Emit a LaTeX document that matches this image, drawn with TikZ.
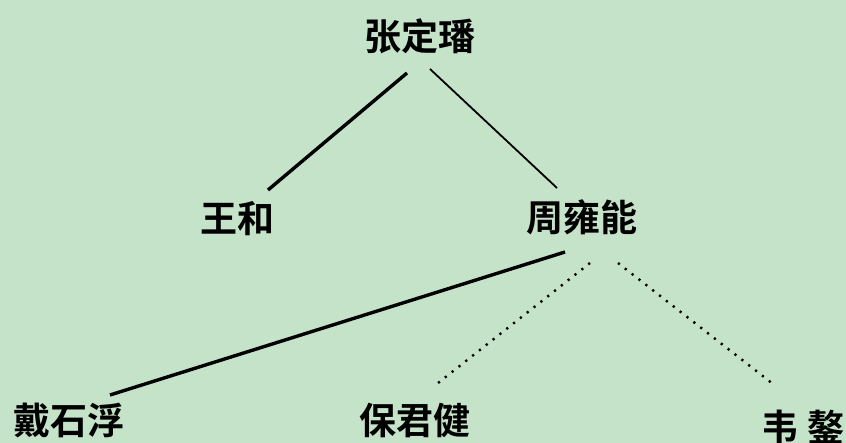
\documentclass[tikz,border=0pt]{standalone}
\usepackage{fontspec}
\newfontfamily\cjk{Noto Sans CJK SC}[BoldFont={Noto Sans CJK SC Bold}]
\usetikzlibrary{calc}
\definecolor{bg}{RGB}{197,227,200}
\tikzset{
  person/.style={anchor=base, inner sep=0pt, font=\cjk\bfseries\fontsize{37}{37}\selectfont},
  solidthick/.style={line width=3.4pt},
  solidthin/.style={line width=1.8pt},
  dotline/.style={line width=2.4pt, dash pattern=on 2.2pt off 6.5pt}
}
\begin{document}
\begin{tikzpicture}[x=1pt,y=-1pt]
\fill[bg] (0,0) rectangle (846,443);
\useasboundingbox (0,0) rectangle (846,443);
\node[person] (root) at (420,51) {张定璠};
\node[person] (wh) at (237,233) {王和};
\node[person] (zyn) at (582,232) {周雍能};
\node[person] (dsf) at (69,434) {戴石浮};
\node[person] (bjj) at (415,434) {保君健};
\node[person] (wa) at (803,442) {韦 鏊};
\draw[solidthick] ($(root.base)+(-13,22)$) -- ($(wh.base)+(31,-43)$);
\draw[solidthin] ($(root.base)+(10,18)$) -- ($(zyn.base)+(-25,-44)$);
\draw[solidthick] ($(zyn.base)+(-17,20)$) -- ($(dsf.base)+(41,-39)$);
\draw[dotline] ($(zyn.base)+(8,31)$) -- ($(bjj.base)+(18,-47)$);
\draw[dotline] ($(zyn.base)+(36,31)$) -- ($(wa.base)+(-30,-58)$);
\end{tikzpicture}
\end{document}
